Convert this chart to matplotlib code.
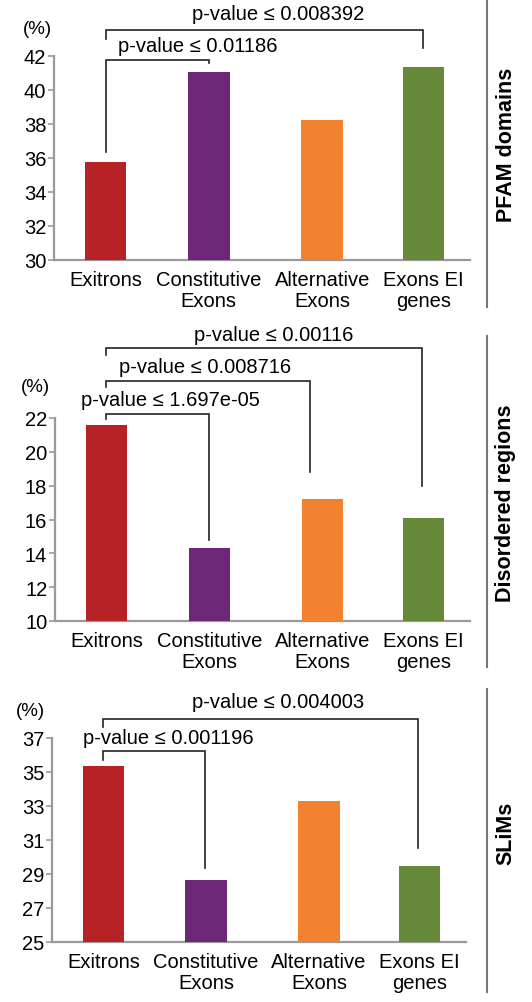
import matplotlib
matplotlib.use("Agg")
import matplotlib.pyplot as plt
from matplotlib.lines import Line2D

plt.rcParams['font.family'] = ['Liberation Sans', 'DejaVu Sans']

# ---------------- data ----------------
categories = ["Exitrons", "Constitutive\nExons", "Alternative\nExons", "Exons EI\ngenes"]
pfam_values = [35.76, 41.04, 38.22, 41.33]
disordered_values = [21.6, 14.31, 17.22, 16.09]
slims_values = [35.35, 28.67, 33.31, 29.49]

pfam_ticks = [30, 32, 34, 36, 38, 40, 42]
disordered_ticks = [10, 12, 14, 16, 18, 20, 22]
slims_ticks = [25, 27, 29, 31, 33, 35, 37]

pfam_pvalues = ["0.01186", "0.008392"]
disordered_pvalues = ["1.697e-05", "0.008716", "0.00116"]
slims_pvalues = ["0.001196", "0.004003"]

panel_titles = ["PFAM domains", "Disordered regions", "SLiMs"]

colors = ["#B72227", "#6C2876", "#F2822F", "#658839"]

# ---------------- layout ----------------
xpos = [0.0, 1.02, 2.14, 3.14]
bar_w = 0.41
xlim = (-0.51, 3.6)

fig = plt.figure(figsize=(5.32, 10.03), dpi=100)

axes_rects = [
    [54 / 532, 1 - 261 / 1003, 416 / 532, 204 / 1003],
    [55 / 532, 1 - 622 / 1003, 415 / 532, 203 / 1003],
    [52 / 532, 1 - 943 / 1003, 414 / 532, 204 / 1003],
]
pct_pos = [(37, 30), (35, 388), (30, 712)]

# bracket specs: (i, j, label, y_top, y_left_bottom, y_right_bottom, x_right_offset, text_x, text_y)
brackets = [
    [(0, 1, pfam_pvalues[0], 41.76, 36.35, 41.59, 0.0, 0.91, 42.62),
     (0, 3, pfam_pvalues[1], 43.53, 43.0, 42.47, 0.0, 1.70, 44.5)],
    [(0, 1, disordered_pvalues[0], 22.26, 21.92, 14.8, 0.0, 0.63, 23.12),
     (0, 2, disordered_pvalues[1], 24.18, 23.84, 18.8, -0.12, 0.98, 25.05),
     (0, 3, disordered_pvalues[2], 26.15, 25.72, 18.0, -0.02, 1.66, 26.92)],
    [(0, 1, slims_pvalues[0], 36.22, 35.69, 29.35, -0.01, 0.64, 37.02),
     (0, 3, slims_pvalues[1], 38.1, 37.65, 30.53, -0.02, 1.73, 39.14)],
]

all_values = [pfam_values, disordered_values, slims_values]
all_ticks = [pfam_ticks, disordered_ticks, slims_ticks]

spine_color = "#9a9a9a"
fs = 14.5

for k in range(3):
    ax = fig.add_axes(axes_rects[k])
    vals = all_values[k]
    ticks = all_ticks[k]
    ax.bar(xpos, [v - ticks[0] for v in vals], bottom=ticks[0], width=bar_w,
           color=colors, zorder=3)
    ax.set_xlim(*xlim)
    ax.set_ylim(ticks[0], ticks[-1])
    ax.set_yticks(ticks)
    ax.set_yticklabels([str(t) for t in ticks], fontsize=fs)
    ax.set_xticks(xpos)
    ax.set_xticklabels(categories, fontsize=fs, linespacing=1.1)
    ax.tick_params(axis='x', length=0, pad=7.5)
    ax.tick_params(axis='y', length=4, width=1.2, color=spine_color, pad=1.5)
    for s in ['top', 'right']:
        ax.spines[s].set_visible(False)
    for s in ['left', 'bottom']:
        ax.spines[s].set_color(spine_color)
        ax.spines[s].set_linewidth(1.6)
    px, py = pct_pos[k]
    fig.text(px / 532, 1 - py / 1003, "(%)", fontsize=fs - 1, ha='center', va='center')

    for (i, j, lab, ytop, yl, yr, xoff, tx, ty) in brackets[k]:
        xl = xpos[i]
        xr = xpos[j] + xoff
        ax.plot([xl, xl, xr, xr], [yl, ytop, ytop, yr], color="#222222",
                lw=1.2, clip_on=False, zorder=4, solid_joinstyle='miter')
        ax.text(tx, ty, "p-value \u2264 " + lab, fontsize=fs, ha='center',
                va='center', clip_on=False)

# right-hand separator lines and panel titles
sep = [(0, 308, 145), (337, 668, 503), (690, 993, 833)]
for (y0, y1, yc), title in zip(sep, panel_titles):
    fig.add_artist(Line2D([487 / 532, 487 / 532], [1 - y0 / 1003, 1 - y1 / 1003],
                          color="#777777", lw=1.5, transform=fig.transFigure))
    fig.text(506 / 532, 1 - yc / 1003, title, rotation=90, fontsize=15.5,
             fontweight='bold', ha='center', va='center')

fig.savefig("out.png", dpi=100)
